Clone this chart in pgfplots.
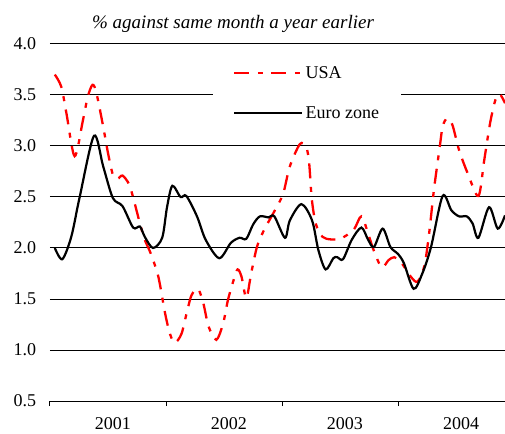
\documentclass[border=0pt]{standalone}
\usepackage{fontspec}
\setmainfont{Liberation Serif}
\usepackage{pgfplots}
\pgfplotsset{compat=1.18}
\newcommand{\cf}{\fontsize{18bp}{21bp}\selectfont}
\pgfplotstableread{
m v
0.5 2.00
1.27 1.89
2.2 2.11
3.07 2.50
4.55 3.10
5.5 2.80
6.5 2.49
7.5 2.41
8.6 2.20
9.3 2.21
9.8 2.11
10.65 2.00
11.6 2.10
12.1 2.40
12.65 2.61
13.5 2.50
14.1 2.51
15.2 2.31
16.1 2.08
17.5 1.90
18.7 2.05
19.6 2.10
20.3 2.09
21.0 2.23
21.7 2.31
22.6 2.30
23.2 2.31
24.3 2.10
24.8 2.27
26.0 2.43
27.1 2.27
27.75 1.98
28.5 1.79
29.3 1.90
29.7 1.91
30.3 1.89
31.2 2.08
32.2 2.20
32.9 2.08
33.5 2.01
34.4 2.19
35.2 2.01
36.0 1.94
36.6 1.85
37.6 1.60
38.5 1.75
39.4 2.01
40.6 2.51
41.5 2.37
42.3 2.31
43.1 2.31
43.7 2.24
44.3 2.10
45.4 2.40
46.3 2.19
47.05 2.32
}\euro
\pgfplotstableread{
m v
0.5 3.70
1.17 3.58
1.7 3.32
2.55 2.90
3.4 3.25
3.9 3.48
4.4 3.60
4.8 3.52
5.5 3.19
6.0 2.93
6.5 2.72
7.0 2.68
7.5 2.71
8.2 2.62
8.75 2.44
9.3 2.24
9.8 2.08
10.4 1.95
11.2 1.72
11.9 1.36
12.4 1.16
12.9 1.07
13.6 1.16
14.2 1.39
14.65 1.54
15.3 1.60
15.85 1.46
16.4 1.23
17.2 1.10
17.9 1.26
18.4 1.49
19.0 1.69
19.4 1.79
19.8 1.72
20.3 1.51
20.8 1.75
21.4 2.01
22.1 2.17
23.2 2.36
24.1 2.53
24.8 2.80
25.85 3.02
26.5 2.99
26.8 2.83
27.05 2.50
27.4 2.27
27.9 2.14
28.6 2.09
30.0 2.09
31.4 2.18
32.2 2.31
32.9 2.14
33.5 1.97
34.3 1.81
35.0 1.88
35.6 1.91
36.3 1.86
37.3 1.72
38.0 1.67
38.7 1.82
39.2 2.14
39.7 2.57
40.3 2.99
40.6 3.19
41.05 3.27
41.6 3.21
42.3 2.96
43.2 2.73
44.3 2.51
44.9 2.86
45.5 3.22
46.05 3.45
46.5 3.51
47.05 3.42
}\usa
\begin{document}
\begin{tikzpicture}
\begin{axis}[
  scale only axis, width=455bp, height=357bp,
  xmin=0, xmax=47.05, ymin=0.5, ymax=4.0,
  clip=false,
  axis lines*=left,
  y axis line style={draw=none},
  axis line style={black, line width=1bp},
  ytick={0.5,1.0,1.5,2.0,2.5,3.0,3.5,4.0},
  ytick style={draw=none},
  ymajorgrids,
  grid style={black, line width=1bp},
  y tick label style={/pgf/number format/fixed,/pgf/number format/fixed zerofill,/pgf/number format/precision=1, font=\cf, xshift=-6bp},
  /pgf/number format/assume math mode=true,
  xtick={6.5,18.5,30.5,42.5},
  xticklabels={2001,2002,2003,2004},
  major x tick style={draw=none},
  minor xtick={0,12,24,36},
  minor x tick style={black, line width=1bp},
  minor tick length=5bp,
  tick align=outside,
  x tick label style={font=\cf, yshift=-9bp},
  legend style={at={(axis cs:16.86,3.824)}, anchor=north west, draw=none, fill=white,
    font=\cf, inner xsep=20bp, inner ysep=2bp, row sep=23bp},
  legend cell align=left,
  legend image code/.code={\draw[#1] (0bp,0bp) -- (68bp,0bp);},
]
\addplot[red, line width=2.3bp, dash pattern=on 15bp off 8.5bp on 5bp off 8.5bp, smooth] table[x=m,y=v]{\usa};
\addlegendentry{USA}
\addplot[black, line width=2.2bp, smooth] table[x=m,y=v]{\euro};
\addlegendentry{Euro zone}
\node[anchor=base west, yshift=15bp, font=\fontsize{19bp}{22bp}\selectfont\itshape, inner sep=0pt] at (axis cs:4.34,4.0) {\% against same month a year earlier};
\coordinate (ll) at (rel axis cs:0,0);
\coordinate (ur) at (rel axis cs:1,1);
\end{axis}
\pgfresetboundingbox
\path[use as bounding box] ([shift={(-50bp,-33bp)}]ll) rectangle ([shift={(0bp,44bp)}]ur);
\end{tikzpicture}
\end{document}
